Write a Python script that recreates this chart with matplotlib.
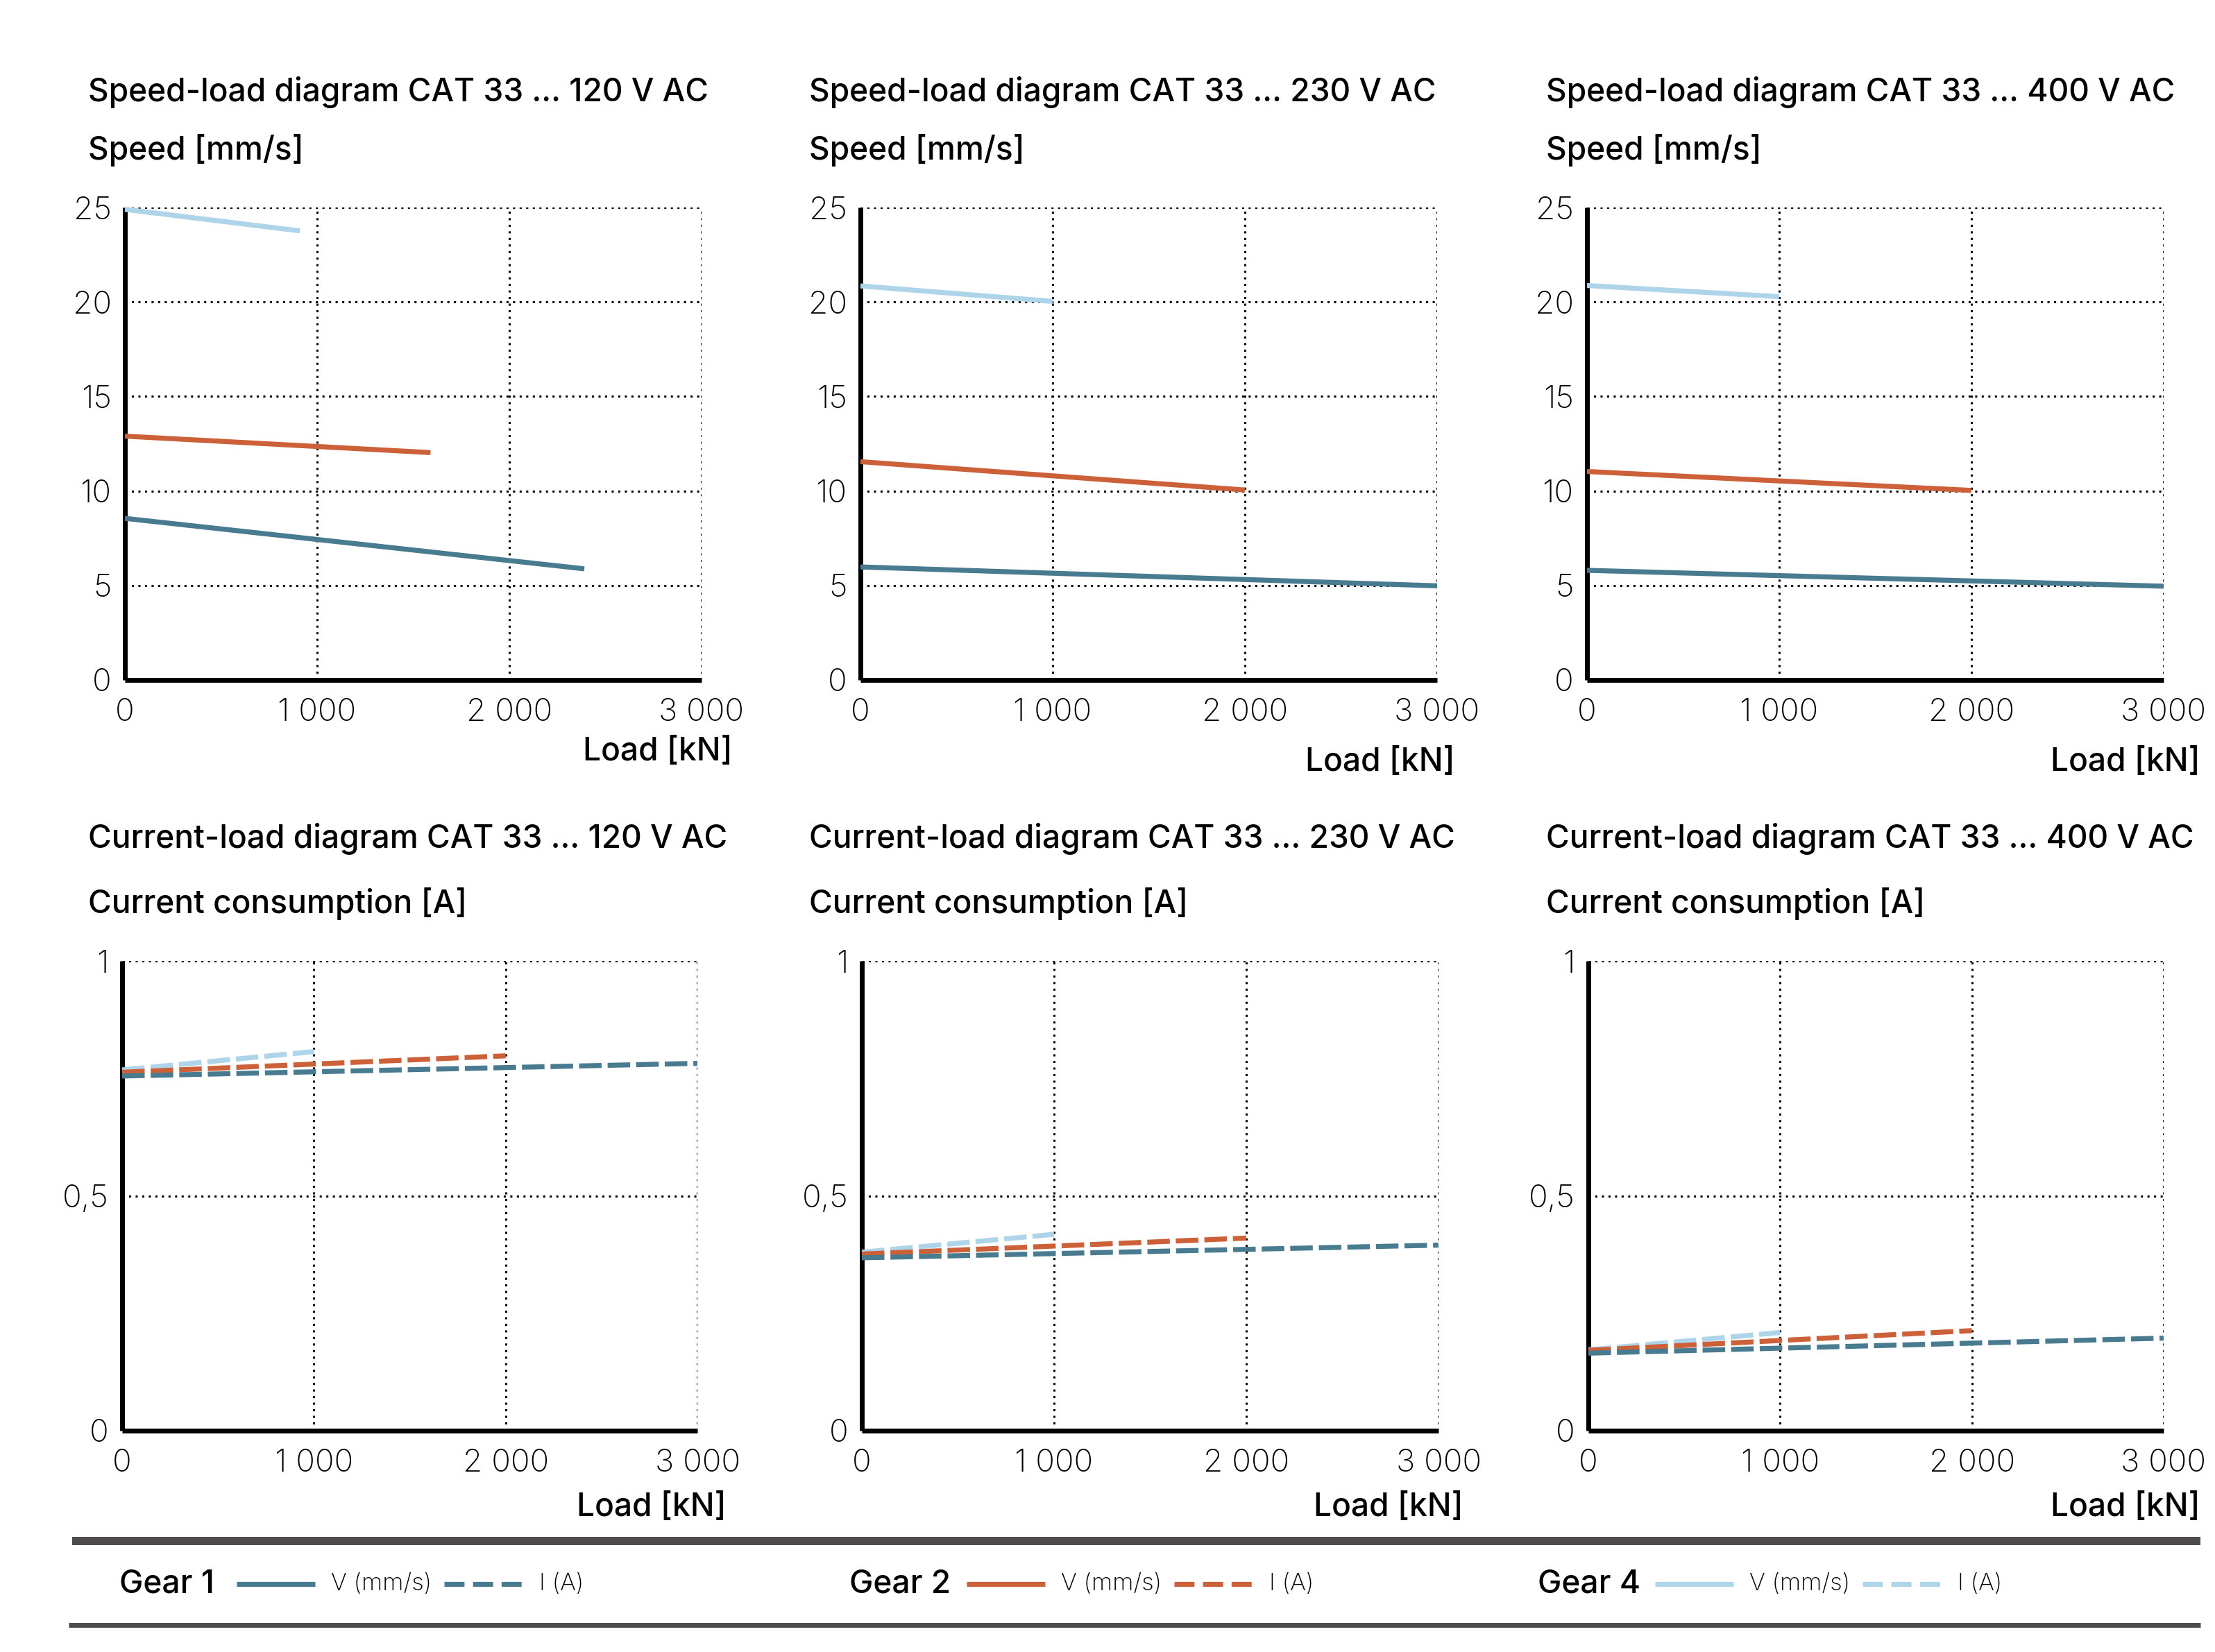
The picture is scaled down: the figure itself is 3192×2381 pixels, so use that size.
import matplotlib
matplotlib.use("Agg")
import matplotlib.pyplot as plt
from matplotlib.lines import Line2D

W, H = 3192, 2381
DPI = 100

plt.rcParams["font.family"] = ["Inter", "DejaVu Sans"]

# ---- data ----
voltages = ["120 V AC", "230 V AC", "400 V AC"]
gear_names = ["Gear 1", "Gear 2", "Gear 4"]
gear_colors = ["#487a90", "#cc6038", "#aed4ea"]

x_ticks = [0, 1000, 2000, 3000]
x_tick_labels = ["0", "1 000", "2 000", "3 000"]
speed_ticks = [0, 5, 10, 15, 20, 25]
current_ticks = [0, 0.5, 1]
current_tick_labels = ["0", "0,5", "1"]

# speed lines (load in kN, speed in mm/s)
load_120_g1 = [0, 2390]
load_120_g2 = [0, 1590]
load_120_g4 = [0, 910]
speed_120_g1 = [8.55, 5.88]
speed_120_g2 = [12.9, 12.03]
speed_120_g4 = [24.9, 23.76]

load_230_g1 = [0, 3000]
load_230_g2 = [0, 2000]
load_230_g4 = [0, 1000]
speed_230_g1 = [5.98, 4.98]
speed_230_g2 = [11.55, 10.05]
speed_230_g4 = [20.85, 20.03]

load_400_g1 = [0, 3000]
load_400_g2 = [0, 2000]
load_400_g4 = [0, 1000]
speed_400_g1 = [5.8, 4.96]
speed_400_g2 = [11.03, 10.03]
speed_400_g4 = [20.87, 20.28]

# current lines (load in kN, current in A)
cur_load_g1 = [0, 3000]
cur_load_g2 = [0, 2000]
cur_load_g4 = [0, 1000]
current_120_g1 = [0.755, 0.782]
current_120_g2 = [0.763, 0.798]
current_120_g4 = [0.768, 0.807]
current_230_g1 = [0.368, 0.395]
current_230_g2 = [0.376, 0.410]
current_230_g4 = [0.380, 0.418]
current_400_g1 = [0.165, 0.197]
current_400_g2 = [0.171, 0.213]
current_400_g4 = [0.172, 0.209]

speed_series = [
    [(load_120_g1, speed_120_g1), (load_120_g2, speed_120_g2), (load_120_g4, speed_120_g4)],
    [(load_230_g1, speed_230_g1), (load_230_g2, speed_230_g2), (load_230_g4, speed_230_g4)],
    [(load_400_g1, speed_400_g1), (load_400_g2, speed_400_g2), (load_400_g4, speed_400_g4)],
]
current_series = [
    [(cur_load_g1, current_120_g1), (cur_load_g2, current_120_g2), (cur_load_g4, current_120_g4)],
    [(cur_load_g1, current_230_g1), (cur_load_g2, current_230_g2), (cur_load_g4, current_230_g4)],
    [(cur_load_g1, current_400_g1), (cur_load_g2, current_400_g2), (cur_load_g4, current_400_g4)],
]

# ---- layout (pixels) ----
top_x = [(180, 1011), (1240, 2071), (2287, 3118)]
bot_x = [(176, 1005), (1242, 2073), (2289, 3118)]
top_y = (299, 980)
bot_y = (1385, 2062)
title_x = [127, 1166, 2228]
top_load_pos = [(1056, 1084), (2097, 1099), (3171, 1099)]
bot_load_pos = [(1047, 2173), (2109, 2173), (3171, 2173)]

LW = 5.2
SPINE_LW = 5
TICK_FS = 33
TITLE_FS = 33.2


def fx(px):
    return px / W


def fy(py):
    return 1 - py / H


def make_axes(fig, xr, yr):
    x0, x1 = xr
    y0, y1 = yr
    return fig.add_axes([fx(x0), fy(y1), (x1 - x0) / W, (y1 - y0) / H])


def style_axes(ax, ylim, yticks, yticklabels):
    ax.set_xlim(0, 3000)
    ax.set_ylim(*ylim)
    ax.set_xticks(x_ticks)
    ax.set_xticklabels(x_tick_labels)
    ax.set_yticks(yticks)
    ax.set_yticklabels(yticklabels)
    for s in ["top", "right"]:
        ax.spines[s].set_visible(False)
    for s in ["left", "bottom"]:
        ax.spines[s].set_linewidth(SPINE_LW)
        ax.spines[s].set_color("black")
        ax.spines[s].set_capstyle("butt")
    ax.tick_params(length=0, labelsize=TICK_FS, colors="black")
    ax.tick_params(axis="x", pad=19)
    ax.tick_params(axis="y", pad=14)
    for lab in ax.get_xticklabels() + ax.get_yticklabels():
        lab.set_fontweight("light")
    ax.grid(True, color="black", linewidth=2.2, linestyle=(0, (1, 2.1)))
    ax.set_axisbelow(True)


fig = plt.figure(figsize=(W / DPI, H / DPI), dpi=DPI)

for i, volt in enumerate(voltages):
    # speed chart
    ax = make_axes(fig, top_x[i], top_y)
    style_axes(ax, (0, 25), speed_ticks, [str(t) for t in speed_ticks])
    for (xs, ys), col in zip(speed_series[i], gear_colors):
        ax.plot(xs, ys, color=col, lw=LW, solid_capstyle="butt", clip_on=False, zorder=3)
    fig.text(fx(title_x[i]), fy(133), f"Speed-load diagram CAT 33 ... {volt}",
             fontsize=TITLE_FS, fontweight="medium", ha="left", va="center")
    fig.text(fx(title_x[i]), fy(217), "Speed [mm/s]",
             fontsize=TITLE_FS, fontweight="medium", ha="left", va="center")
    lx, ly = top_load_pos[i]
    fig.text(fx(lx), fy(ly), "Load [kN]", fontsize=TITLE_FS, fontweight="medium",
             ha="right", va="center")

    # current chart
    ax = make_axes(fig, bot_x[i], bot_y)
    style_axes(ax, (0, 1), current_ticks, current_tick_labels)
    for (xs, ys), col in reversed(list(zip(current_series[i], gear_colors))):
        ax.plot(xs, ys, color=col, lw=LW, dashes=(4.5, 1.2), dash_capstyle="butt",
                clip_on=False, zorder=3)
    fig.text(fx(title_x[i]), fy(1209), f"Current-load diagram CAT 33 ... {volt}",
             fontsize=TITLE_FS, fontweight="medium", ha="left", va="center")
    fig.text(fx(title_x[i]), fy(1303), "Current consumption [A]",
             fontsize=TITLE_FS, fontweight="medium", ha="left", va="center")
    lx, ly = bot_load_pos[i]
    fig.text(fx(lx), fy(ly), "Load [kN]", fontsize=TITLE_FS, fontweight="medium",
             ha="right", va="center")

# ---- legend band ----
fig.add_artist(Line2D([fx(104), fx(3171)], [fy(2221), fy(2221)], color="#4d4c4a",
                      lw=12 * 72 / DPI, solid_capstyle="butt", transform=fig.transFigure))
fig.add_artist(Line2D([fx(99), fx(3171)], [fy(2342), fy(2342)], color="#4d4c4a",
                      lw=7 * 72 / DPI, solid_capstyle="butt", transform=fig.transFigure))

group_x = [172, 1224, 2216]
leg_y = fy(2283)
for gx, name, col in zip(group_x, gear_names, gear_colors):
    fig.text(fx(gx), leg_y, name, fontsize=TITLE_FS, fontweight="medium",
             ha="left", va="center")
    fig.add_artist(Line2D([fx(gx + 169), fx(gx + 282)], [leg_y, leg_y], color=col,
                          lw=LW, solid_capstyle="butt", transform=fig.transFigure))
    fig.text(fx(gx + 305), leg_y, "V (mm/s)", fontsize=25, fontweight="light",
             ha="left", va="center")
    fig.add_artist(Line2D([fx(gx + 468), fx(gx + 582)], [leg_y, leg_y], color=col,
                          lw=LW, dashes=(4.0, 1.7), dash_capstyle="butt",
                          transform=fig.transFigure))
    fig.text(fx(gx + 605), leg_y, "I (A)", fontsize=25, fontweight="light",
             ha="left", va="center")

fig.savefig("out.png", dpi=DPI, facecolor="white")
